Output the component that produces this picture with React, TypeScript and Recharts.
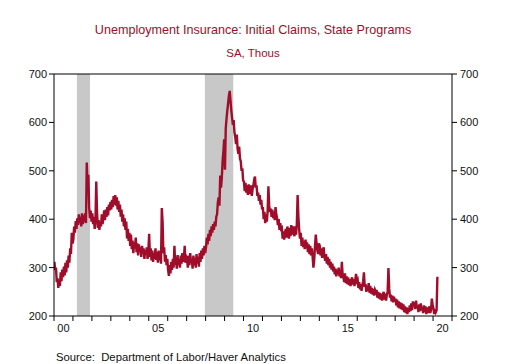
import { LineChart, Line, XAxis, YAxis, ReferenceArea, ReferenceLine } from "recharts";

// semi-monthly readings (thousands), one array per year
const y2000 = [312, 295, 300, 270, 278, 258, 275, 262, 290, 272, 296, 280, 302, 284, 310, 290, 315, 300, 325, 310, 340, 328, 372, 350];
const y2001 = [358, 385, 372, 396, 380, 402, 388, 410, 392, 405, 385, 412, 390, 408, 395, 412, 392, 517, 470, 492, 425, 402, 418, 395];
const y2002 = [412, 390, 405, 380, 398, 478, 415, 382, 398, 378, 395, 385, 410, 390, 402, 418, 398, 420, 405, 425, 408, 430, 418, 436];
const y2003 = [420, 440, 425, 448, 430, 450, 428, 445, 420, 438, 415, 430, 405, 420, 395, 410, 385, 402, 378, 395, 360, 380, 355, 372];
const y2004 = [345, 368, 338, 356, 330, 352, 340, 362, 332, 350, 325, 348, 335, 342, 322, 345, 330, 340, 318, 336, 328, 342, 318, 335];
const y2005 = [370, 322, 340, 315, 335, 312, 330, 318, 340, 316, 332, 310, 335, 315, 325, 308, 423, 395, 330, 342, 312, 326, 305, 318];
const y2006 = [295, 283, 305, 288, 312, 295, 318, 300, 345, 305, 322, 298, 326, 305, 318, 300, 325, 308, 330, 312, 320, 345, 310, 322];
const y2007 = [318, 300, 325, 305, 330, 310, 318, 298, 325, 305, 320, 300, 328, 308, 322, 302, 330, 312, 335, 318, 340, 325, 345, 330];
const y2008 = [342, 362, 348, 370, 355, 378, 365, 385, 372, 390, 378, 395, 385, 405, 410, 435, 445, 428, 490, 465, 485, 520, 540, 565];
const y2009 = [502, 588, 608, 625, 640, 655, 665, 645, 625, 610, 595, 605, 580, 570, 555, 575, 545, 535, 550, 525, 520, 500, 505, 480];
const y2010 = [478, 458, 475, 455, 470, 450, 472, 452, 465, 470, 448, 462, 470, 482, 488, 465, 470, 448, 455, 438, 450, 430, 440, 420];
const y2011 = [425, 400, 415, 392, 410, 395, 415, 468, 428, 415, 422, 405, 420, 402, 415, 398, 425, 410, 402, 388, 400, 378, 392, 380];
const y2012 = [382, 360, 375, 358, 372, 380, 362, 385, 370, 360, 382, 365, 388, 368, 385, 372, 365, 385, 368, 390, 450, 405, 378, 360];
const y2013 = [372, 345, 362, 342, 355, 338, 358, 340, 352, 332, 348, 328, 345, 325, 340, 322, 300, 315, 345, 368, 350, 335, 328, 350];
const y2014 = [345, 325, 340, 320, 332, 342, 322, 314, 328, 308, 322, 305, 318, 300, 312, 296, 308, 292, 302, 286, 298, 282, 296, 286];
const y2015 = [300, 282, 295, 278, 312, 285, 280, 270, 288, 268, 282, 266, 280, 264, 276, 262, 275, 280, 265, 276, 262, 274, 287, 272];
const y2016 = [275, 258, 270, 255, 266, 252, 264, 272, 290, 260, 266, 250, 262, 252, 268, 248, 262, 246, 258, 244, 256, 242, 254, 250];
const y2017 = [254, 238, 250, 236, 248, 234, 246, 232, 244, 250, 234, 246, 232, 244, 250, 299, 256, 238, 244, 230, 242, 228, 240, 230];
const y2018 = [236, 222, 234, 218, 230, 216, 228, 214, 226, 212, 224, 208, 220, 206, 218, 204, 216, 208, 222, 210, 226, 212, 230, 222];
const y2019 = [228, 214, 232, 216, 222, 208, 224, 210, 226, 212, 218, 206, 222, 208, 220, 204, 218, 206, 214, 220, 206, 214, 236, 222];
const y2020 = [216, 204, 214, 208, 212, 281];

const years = [y2000, y2001, y2002, y2003, y2004, y2005, y2006, y2007, y2008, y2009,
  y2010, y2011, y2012, y2013, y2014, y2015, y2016, y2017, y2018, y2019, y2020];

const recessions = [
  [2001.21, 2001.9],
  [2007.96, 2009.46],
];

const yTicks = [200, 300, 400, 500, 600, 700];
const yearTicks = [2000, 2001, 2002, 2003, 2004, 2005, 2006, 2007, 2008, 2009, 2010,
  2011, 2012, 2013, 2014, 2015, 2016, 2017, 2018, 2019, 2020, 2021];
const labelTicks = [2000.5, 2005.5, 2010.5, 2015.5, 2020.5];

const data = years.flatMap((vals, yi) =>
  vals.map((v, i) => ({ t: 2000 + yi + (i + 0.5) / 24, v }))
);

const RED = "#a00d2a";
const FONT = "'Liberation Sans', Arial, sans-serif";

// eslint-disable-next-line @typescript-eslint/no-explicit-any
function XTick(props: any) {
  const { x, y, payload } = props;
  const v = payload.value;
  if (Number.isInteger(v)) {
    return <line x1={x} x2={x} y1={y} y2={y + 5} stroke="#000" />;
  }
  const lab = String(Math.floor(v) % 100).padStart(2, "0");
  return (
    <text x={x} y={y + 16} textAnchor="middle" fontSize={11} fill="#111" fontFamily={FONT}>
      {lab}
    </text>
  );
}

const tickStyle = { fontSize: 11, fill: "#111", fontFamily: FONT };

export default function App() {
  return (
    <div style={{ position: "absolute", left: 0, top: 0, width: 506, height: 364, background: "#fff", fontFamily: FONT }}>
      <div style={{ position: "absolute", top: 23, width: 506, textAlign: "center", fontSize: 12.6, color: RED }}>
        Unemployment Insurance: Initial Claims, State Programs
      </div>
      <div style={{ position: "absolute", top: 47, width: 506, textAlign: "center", fontSize: 11.5, color: RED }}>
        SA, Thous
      </div>
      <LineChart width={506} height={364} data={data} margin={{ top: 74, right: 10, bottom: 28, left: 10 }}>
        <XAxis
          dataKey="t"
          type="number"
          domain={[2000, 2021]}
          ticks={[...yearTicks, ...labelTicks]}
          interval={0}
          tick={<XTick />}
          tickLine={false}
          tickSize={0}
          tickMargin={0}
          axisLine={{ stroke: "#000" }}
          height={20}
          allowDataOverflow
        />
        <YAxis
          yAxisId="left"
          domain={[200, 700]}
          ticks={yTicks}
          width={44}
          tickSize={5}
          tickMargin={2}
          axisLine={{ stroke: "#000" }}
          tickLine={{ stroke: "#000" }}
          tick={tickStyle}
          allowDataOverflow
        />
        <YAxis
          yAxisId="right"
          orientation="right"
          domain={[200, 700]}
          ticks={yTicks}
          width={44}
          tickSize={5}
          tickMargin={3}
          axisLine={{ stroke: "#000" }}
          tickLine={{ stroke: "#000" }}
          tick={tickStyle}
          allowDataOverflow
        />
        {recessions.map(([a, b], i) => (
          <ReferenceArea key={i} yAxisId="left" x1={a} x2={b} y1={200} y2={700} fill="#c8c8c8" fillOpacity={1} stroke="none" />
        ))}
        <ReferenceLine yAxisId="right" y={700} stroke="#000" />
        <Line yAxisId="right" dataKey="v" stroke="none" dot={false} activeDot={false} legendType="none" isAnimationActive={false} />
        <Line
          yAxisId="left"
          dataKey="v"
          type="linear"
          stroke={RED}
          strokeWidth={2.4}
          dot={false}
          isAnimationActive={false}
        />
      </LineChart>
      <div style={{ position: "absolute", top: 351, left: 56, fontSize: 11.3, color: "#111", whiteSpace: "pre" }}>
        {"Source:  Department of Labor/Haver Analytics"}
      </div>
    </div>
  );
}
